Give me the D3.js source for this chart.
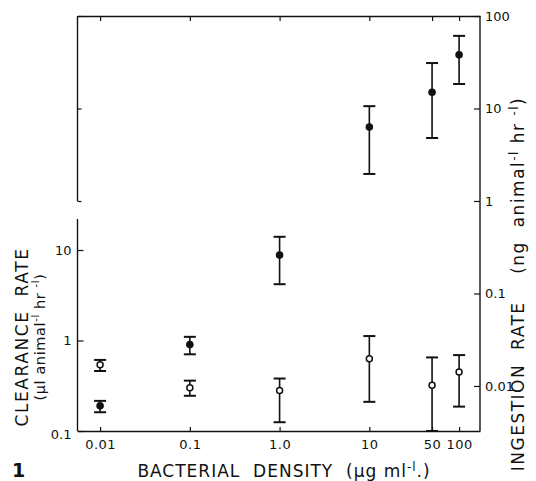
<!DOCTYPE html>
<html>
<head>
<meta charset="utf-8">
<script src="https://cdn.jsdelivr.net/npm/d3@7"></script>
<style>
  body { margin: 0; background: #fff; }
  svg text { font-family: "DejaVu Sans", sans-serif; fill: #111; }
</style>
</head>
<body>
<div id="chart"></div>
<script>
// bacterial density (ug/ml)
var densities = [0.01, 0.1, 1, 10, 50, 100];
var xTickLabels = ["0.01", "0.1", "1.0", "10", "50", "100"];

// clearance rate, open circles, left axis (ul animal-1 hr-1)
var clearMean = [0.54, 0.30, 0.28, 0.63, 0.32, 0.45];
var clearHigh = [0.61, 0.36, 0.38, 1.12, 0.65, 0.69];
var clearLow = [0.46, 0.245, 0.125, 0.21, 0.10, 0.186];

// ingestion rate, filled circles, right axis (ng animal-1 hr-1)
var ingestMean = [0.0061, 0.028, 0.26, 6.3, 15, 38];
var ingestHigh = [0.0069, 0.034, 0.41, 10.6, 31, 61];
var ingestLow = [0.0052, 0.022, 0.126, 1.96, 4.8, 18.4];

var leftTicks = [0.1, 1, 10];
var leftTickLabels = ["0.1", "1", "10"];
var rightTicks = [0.01, 0.1, 1, 10, 100];
var rightTickLabels = ["0.01", "0.1", "1", "10", "100"];

var svgWidth = 536;
var svgHeight = 481;

var svg = d3.select("#chart")
  .append("svg")
  .attr("width", svgWidth)
  .attr("height", svgHeight);

// scales
var x = d3.scaleLog()
  .domain([0.0056, 171])
  .range([77.5, 480]);

var yIngest = d3.scaleLog()
  .domain([0.00326, 100])
  .range([431, 16]);

var yClear = d3.scaleLog()
  .domain([0.1, 10])
  .range([431, 250]);

var ink = "#111";

// top panel frame: top edge with ticks, left bracket
svg.append("g")
  .attr("transform", `translate(0, ${yIngest(100)})`)
  .call(d3.axisTop(x).tickValues(densities).tickSizeInner(-5).tickSizeOuter(0).tickFormat(""))
  .call(g => g.select(".domain").attr("stroke", ink).attr("stroke-width", 1.4))
  .call(g => g.selectAll(".tick line").attr("stroke", ink).attr("stroke-width", 1.2));

svg.append("g")
  .attr("transform", `translate(${x.range()[0]}, 0)`)
  .call(d3.axisLeft(yIngest).tickValues([100, 10, 1]).tickSizeInner(-4).tickSizeOuter(0).tickFormat(""))
  .call(g => g.select(".domain").remove())
  .call(g => g.selectAll(".tick line").attr("stroke", ink).attr("stroke-width", 1.2));

svg.append("line")
  .attr("x1", x.range()[0]).attr("x2", x.range()[0])
  .attr("y1", yIngest(100)).attr("y2", yIngest(1))
  .attr("stroke", ink).attr("stroke-width", 1.4);

// bottom panel left axis (clearance)
var leftAxis = svg.append("g")
  .attr("transform", `translate(${x.range()[0]}, 0)`)
  .call(d3.axisLeft(yClear).tickValues(leftTicks).tickSizeInner(-6).tickSizeOuter(0)
    .tickPadding(6).tickFormat((d, i) => leftTickLabels[i]))
  .call(g => g.select(".domain").remove())
  .call(g => g.selectAll(".tick line").attr("stroke", ink).attr("stroke-width", 1.2))
  .call(g => g.selectAll(".tick text").attr("font-size", 13));

leftAxis.selectAll(".tick text")
  .filter(d => d === 0.1)
  .attr("dy", "0.6em");

svg.append("line")
  .attr("x1", x.range()[0]).attr("x2", x.range()[0])
  .attr("y1", yClear(22)).attr("y2", yClear(0.1))
  .attr("stroke", ink).attr("stroke-width", 1.4);

// right axis (ingestion)
svg.append("g")
  .attr("transform", `translate(${x.range()[1]}, 0)`)
  .call(d3.axisRight(yIngest).tickValues(rightTicks).tickSizeInner(-6).tickSizeOuter(0)
    .tickPadding(5).tickFormat((d, i) => rightTickLabels[i]))
  .call(g => g.select(".domain").remove())
  .call(g => g.selectAll(".tick line").attr("stroke", ink).attr("stroke-width", 1.2))
  .call(g => g.selectAll(".tick text").attr("font-size", 13));

svg.append("line")
  .attr("x1", x.range()[1]).attr("x2", x.range()[1])
  .attr("y1", yIngest(100)).attr("y2", yIngest.range()[0])
  .attr("stroke", ink).attr("stroke-width", 1.4);

// bottom axis
svg.append("g")
  .attr("transform", `translate(0, ${yClear(0.1)})`)
  .call(d3.axisBottom(x).tickValues(densities).tickSizeInner(-4).tickSizeOuter(0)
    .tickPadding(9).tickFormat((d, i) => xTickLabels[i]))
  .call(g => g.select(".domain").attr("stroke", ink).attr("stroke-width", 1.4))
  .call(g => g.selectAll(".tick line").attr("stroke", ink).attr("stroke-width", 1.2))
  .call(g => g.selectAll(".tick text").attr("font-size", 13).attr("letter-spacing", 0.5));

// error bars
function errorBars(means, highs, lows, yScale, cls) {
  var rows = densities.map((d, i) => ({x: d, m: means[i], hi: highs[i], lo: lows[i]}));
  var g = svg.append("g").attr("class", cls);
  g.selectAll("line.stem")
    .data(rows).enter().append("line")
    .attr("class", "stem")
    .attr("x1", d => x(d.x)).attr("x2", d => x(d.x))
    .attr("y1", d => yScale(d.hi)).attr("y2", d => yScale(d.lo))
    .attr("stroke", ink).attr("stroke-width", 1.6);
  g.selectAll("line.capHi")
    .data(rows).enter().append("line")
    .attr("class", "capHi")
    .attr("x1", d => x(d.x) - 6).attr("x2", d => x(d.x) + 6)
    .attr("y1", d => yScale(d.hi)).attr("y2", d => yScale(d.hi))
    .attr("stroke", ink).attr("stroke-width", 2);
  g.selectAll("line.capLo")
    .data(rows).enter().append("line")
    .attr("class", "capLo")
    .attr("x1", d => x(d.x) - 6).attr("x2", d => x(d.x) + 6)
    .attr("y1", d => yScale(d.lo)).attr("y2", d => yScale(d.lo))
    .attr("stroke", ink).attr("stroke-width", 2);
  return {g: g, rows: rows};
}

var clr = errorBars(clearMean, clearHigh, clearLow, yClear, "clearance");
clr.g.selectAll("circle")
  .data(clr.rows).enter().append("circle")
  .attr("cx", d => x(d.x))
  .attr("cy", d => yClear(d.m))
  .attr("r", 3)
  .attr("fill", "#fff")
  .attr("stroke", ink)
  .attr("stroke-width", 1.5);

var ing = errorBars(ingestMean, ingestHigh, ingestLow, yIngest, "ingestion");
ing.g.selectAll("circle")
  .data(ing.rows).enter().append("circle")
  .attr("cx", d => x(d.x))
  .attr("cy", d => yIngest(d.m))
  .attr("r", 3.8)
  .attr("fill", ink);

// axis titles, "-l" superscripts as in the original lettering
function supText(text, parts) {
  parts.forEach(function(p) {
    if (p.sup) {
      text.append("tspan").attr("dy", -6).attr("font-size", "0.7em").text(p.t);
    } else {
      text.append("tspan").attr("dy", p.after ? 6 : 0).text(p.t);
    }
  });
}

var xTitle = svg.append("text")
  .attr("x", 284).attr("y", 477)
  .attr("text-anchor", "middle")
  .attr("font-size", 17)
  .attr("letter-spacing", 1)
  .attr("xml:space", "preserve");
supText(xTitle, [
  {t: "BACTERIAL  DENSITY  (\u00b5g ml"},
  {t: "-l", sup: true},
  {t: ".)", after: true}
]);

svg.append("text")
  .attr("transform", "translate(28, 337) rotate(-90)")
  .attr("text-anchor", "middle")
  .attr("font-size", 17)
  .attr("letter-spacing", 1.6)
  .attr("xml:space", "preserve")
  .text("CLEARANCE  RATE");

var leftSub = svg.append("text")
  .attr("transform", "translate(45, 337) rotate(-90)")
  .attr("text-anchor", "middle")
  .attr("font-size", 14.5)
  .attr("letter-spacing", 0.6)
  .attr("xml:space", "preserve");
supText(leftSub, [
  {t: "(\u00b5l animal"},
  {t: "-l", sup: true},
  {t: " hr ", after: true},
  {t: "-l", sup: true},
  {t: ")", after: true}
]);

var rightTitle = svg.append("text")
  .attr("transform", "translate(524, 284) rotate(-90)")
  .attr("text-anchor", "middle")
  .attr("font-size", 17)
  .attr("letter-spacing", 1.5)
  .attr("xml:space", "preserve");
supText(rightTitle, [
  {t: "INGESTION  RATE    (ng  animal"},
  {t: "-l", sup: true},
  {t: " hr ", after: true},
  {t: "-l", sup: true},
  {t: ")", after: true}
]);

// figure number
svg.append("text")
  .attr("x", 12).attr("y", 477)
  .attr("font-family", "'Liberation Serif', serif")
  .attr("font-weight", "bold")
  .attr("font-size", 19)
  .text("1");
</script>
</body>
</html>
